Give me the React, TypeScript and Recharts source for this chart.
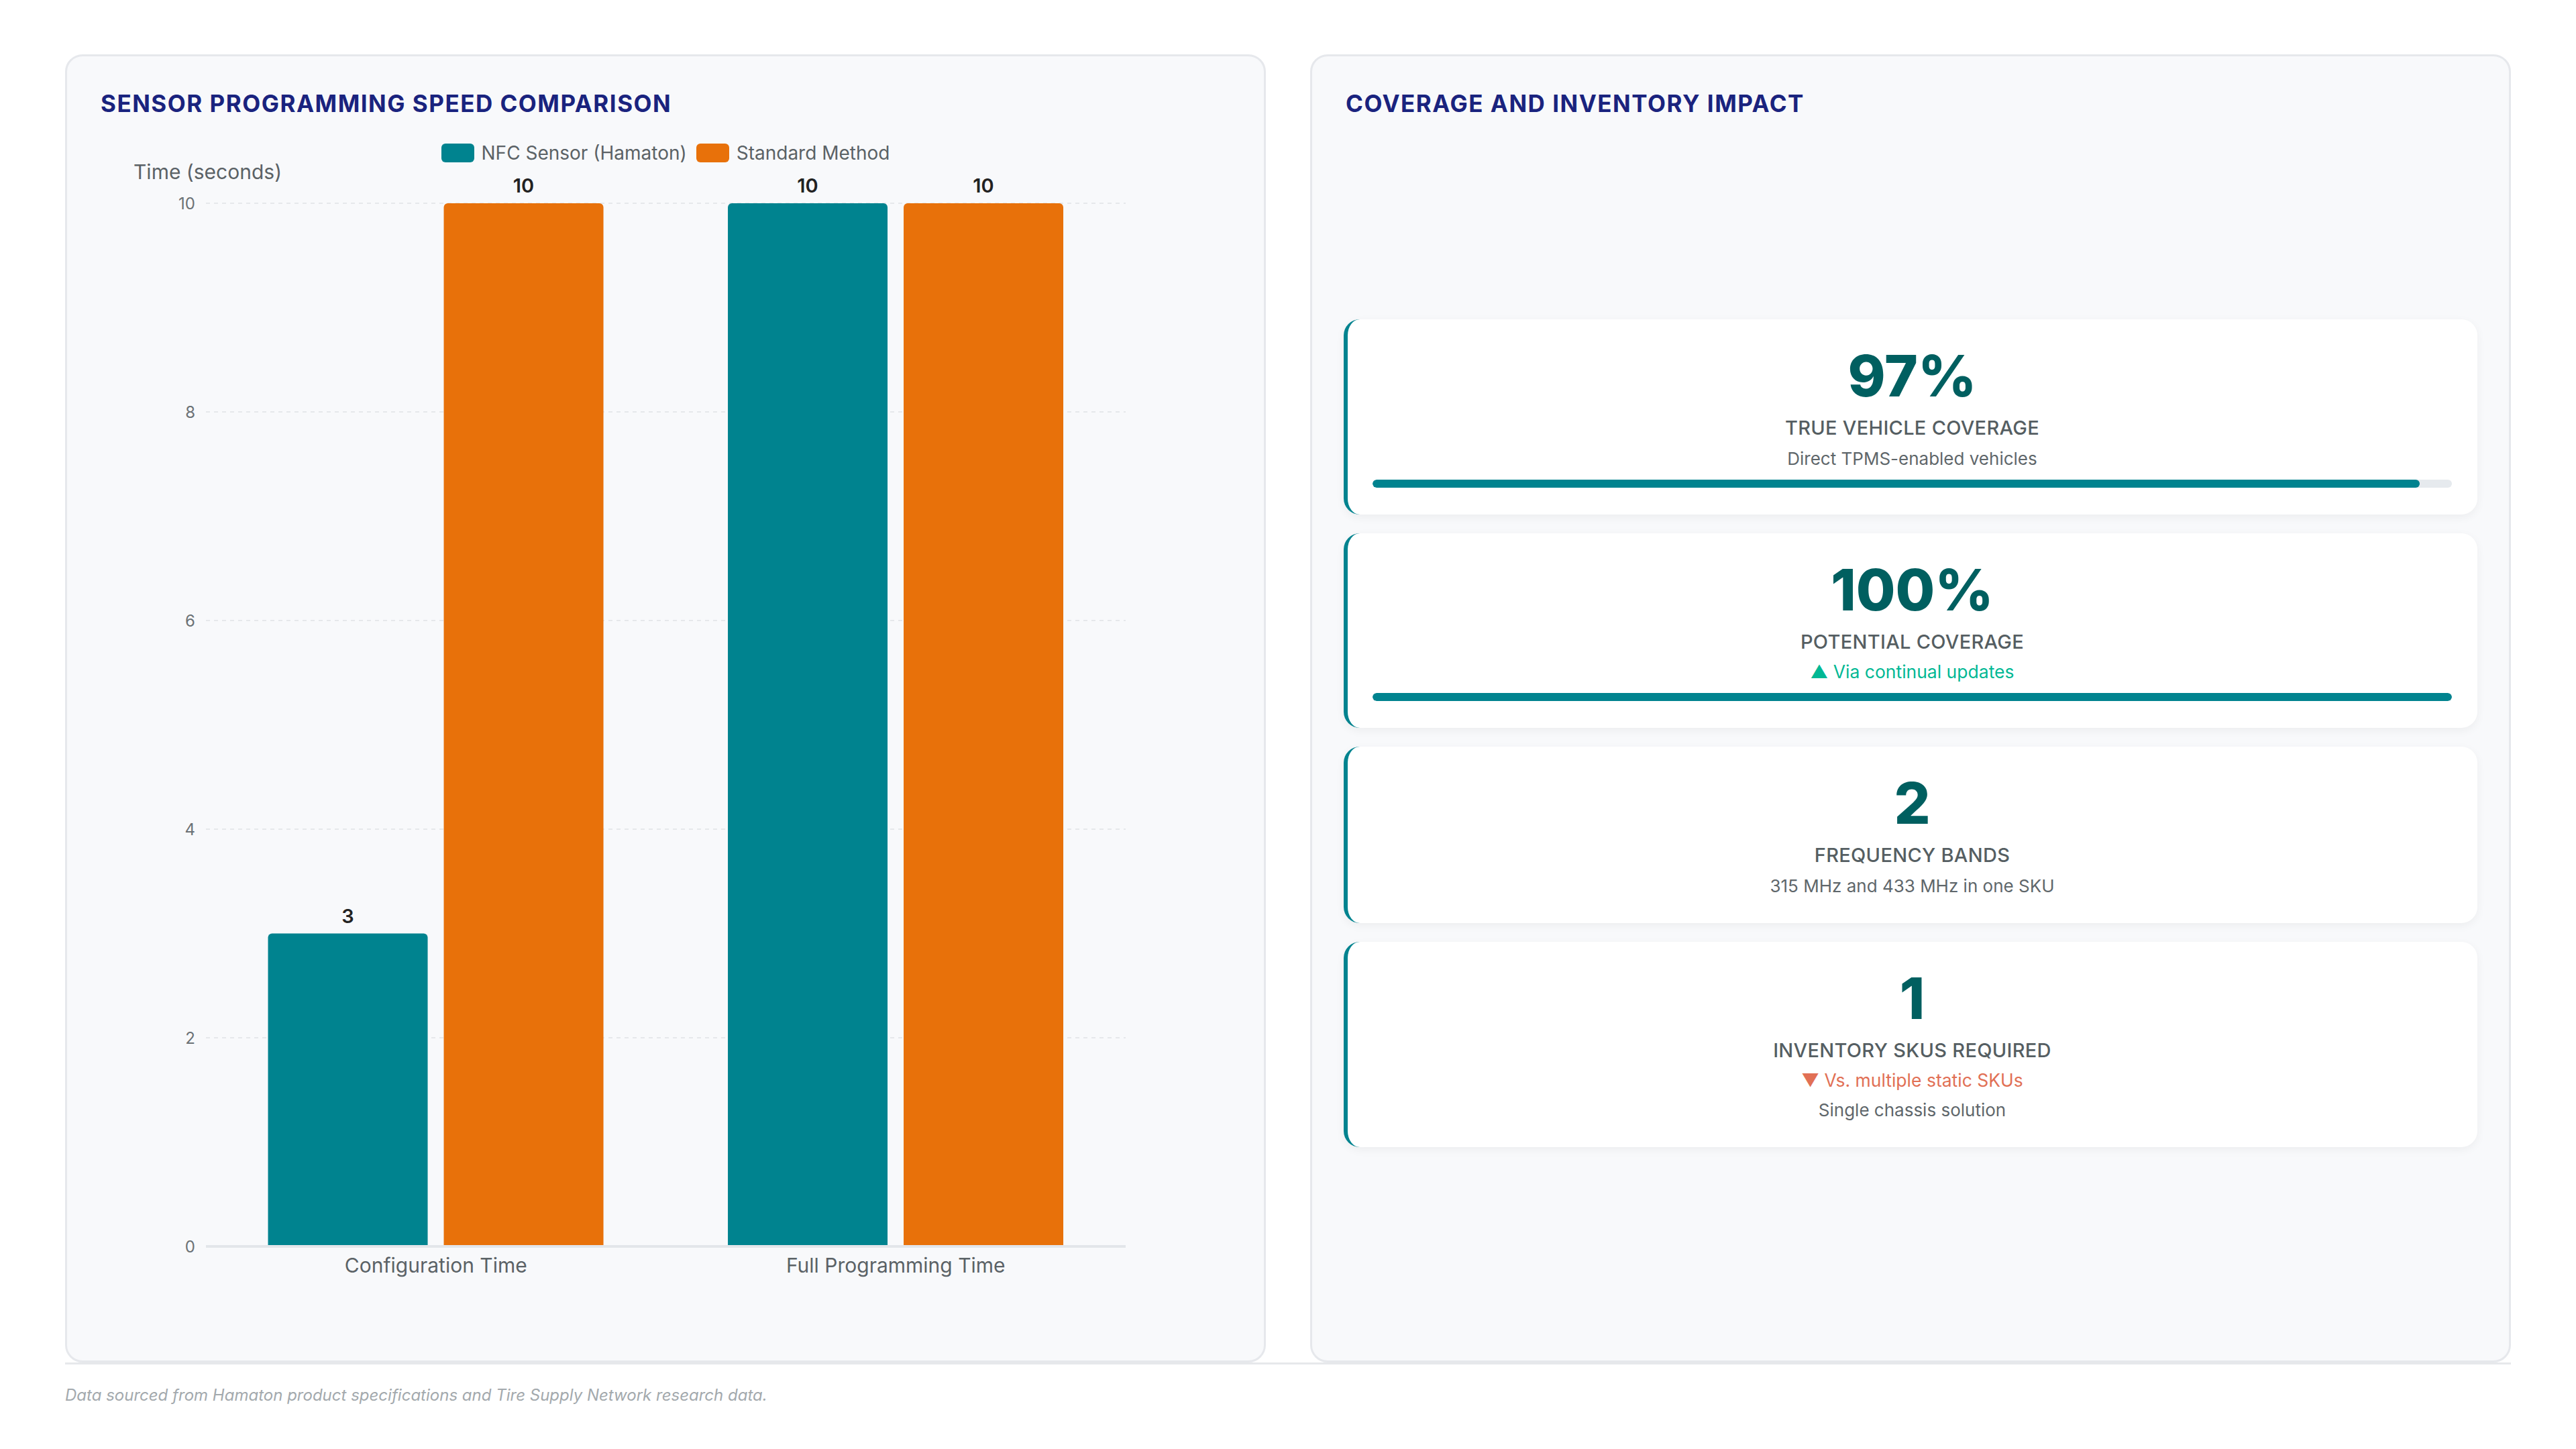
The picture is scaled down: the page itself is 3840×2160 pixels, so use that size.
import React from "react";
import { Bar, BarChart, CartesianGrid, LabelList, Legend, XAxis, YAxis } from "recharts";

// Left panel: programming time per task, in seconds
const categories = ["Configuration Time", "Full Programming Time"];
const nfcSeconds = [3, 10];
const standardSeconds = [10, 10];
const yTicks = [0, 2, 4, 6, 8, 10];
const seriesNames = ["NFC Sensor (Hamaton)", "Standard Method"];

// Right panel: metric cards
const metricValues = ["97%", "100%", "2", "1"];
const metricLabels = ["TRUE VEHICLE COVERAGE", "POTENTIAL COVERAGE", "FREQUENCY BANDS", "INVENTORY SKUS REQUIRED"];
const metricTrends = [null, "▲ Via continual updates", null, "▼ Vs. multiple static SKUs"];
const metricTrendUp = [false, true, false, false];
const metricNotes = ["Direct TPMS-enabled vehicles", null, "315 MHz and 433 MHz in one SKU", "Single chassis solution"];
const metricProgress = [97, 100, null, null];

const TEAL = "#00838f";
const ORANGE = "#e8710a";
const FONT = "Inter, 'Noto Sans', sans-serif";

const chartData = categories.map((name, i) => ({
  name,
  nfc: nfcSeconds[i],
  standard: standardSeconds[i],
}));

const cardStyle: React.CSSProperties = {
  position: "absolute",
  top: 81,
  width: 1790,
  height: 1950,
  boxSizing: "border-box",
  background: "#f8f9fb",
  border: "3px solid #e6e8ec",
  borderRadius: 26,
};

const titleStyle: React.CSSProperties = {
  position: "absolute",
  left: 50,
  top: 49,
  margin: 0,
  fontSize: 35,
  lineHeight: "42px",
  fontWeight: 700,
  letterSpacing: 1.5,
  color: "#1a237e",
};

function LegendContent() {
  const colors = [TEAL, ORANGE];
  return (
    <div style={{ display: "flex", justifyContent: "center", alignItems: "center", height: 40, fontFamily: FONT }}>
      {seriesNames.map((n, i) => (
        <div key={n} style={{ display: "flex", alignItems: "center", marginRight: i === 0 ? 14 : 0 }}>
          <span style={{ width: 49, height: 28, borderRadius: 6, background: colors[i], display: "inline-block", marginRight: 11 }} />
          <span style={{ fontSize: 28, color: "#5b6266" }}>{n}</span>
        </div>
      ))}
    </div>
  );
}

function SpeedChart() {
  return (
    <BarChart
      width={1790}
      height={1950}
      data={chartData}
      margin={{ top: 222, right: 209, left: 150, bottom: 113 }}
      barCategoryGap="13.5%"
      barGap={24}
      style={{ fontFamily: FONT }}
    >
      <CartesianGrid stroke="#e6e8eb" strokeWidth={2} strokeDasharray="6 6" vertical={false} />
      <XAxis
        dataKey="name"
        tickLine={false}
        tickSize={0}
        tickMargin={18}
        height={60}
        axisLine={{ stroke: "#e3e6ea", strokeWidth: 4 }}
        tick={{ fill: "#5b6266", fontSize: 30, fontFamily: FONT }}
      />
      <YAxis
        width={60}
        domain={[0, 10]}
        ticks={yTicks}
        axisLine={false}
        tickLine={false}
        tickSize={0}
        tickMargin={16}
        tick={{ fill: "#6b7175", fontSize: 24, fontFamily: FONT }}
        label={{
          content: (props: any) => {
            const vb = props.viewBox || { x: 150, y: 222 };
            return (
              <text x={vb.x - 48} y={vb.y - 36} fill="#5b6266" fontSize={30} fontFamily={FONT}>
                Time (seconds)
              </text>
            );
          },
        }}
      />
      <Legend
        layout="horizontal"
        verticalAlign="middle"
        align="center"
        wrapperStyle={{ top: 127, left: 0, width: 1790 }}
        content={() => <LegendContent />}
      />
      <Bar dataKey="nfc" name={seriesNames[0]} fill={TEAL} radius={[6, 6, 0, 0]} isAnimationActive={false}>
        <LabelList dataKey="nfc" position="top" offset={16} fill="#222" fontSize={29} fontWeight={600} fontFamily={FONT} />
      </Bar>
      <Bar dataKey="standard" name={seriesNames[1]} fill={ORANGE} radius={[6, 6, 0, 0]} isAnimationActive={false}>
        <LabelList dataKey="standard" position="top" offset={16} fill="#222" fontSize={29} fontWeight={600} fontFamily={FONT} />
      </Bar>
    </BarChart>
  );
}

function MetricCard({ i }: { i: number }) {
  const trend = metricTrends[i];
  const note = metricNotes[i];
  const progress = metricProgress[i];
  return (
    <div
      style={{
        background: "#fff",
        borderLeft: `6px solid ${TEAL}`,
        borderRadius: 24,
        boxShadow: "0 4px 14px rgba(0,0,0,0.05)",
        padding: "42px 38px 40px 37px",
        textAlign: "center",
        marginBottom: 28,
      }}
    >
      <div style={{ fontSize: 85, lineHeight: "85px", fontWeight: 800, color: "#005f60" }}>{metricValues[i]}</div>
      <div style={{ marginTop: 17, fontSize: 29, lineHeight: "35px", fontWeight: 500, color: "#555e62", letterSpacing: 0.3 }}>
        {metricLabels[i]}
      </div>
      {trend && (
        <div
          style={{
            marginTop: 12,
            fontSize: 26.5,
            lineHeight: "31px",
            color: metricTrendUp[i] ? "#00b894" : "#e17055",
          }}
        >
          {trend}
        </div>
      )}
      {note && <div style={{ marginTop: 13, fontSize: 26, lineHeight: "31px", color: "#5f676b" }}>{note}</div>}
      {progress !== null && (
        <div style={{ marginTop: 16, height: 12, borderRadius: 6, background: "#e6eaee", overflow: "hidden" }}>
          <div style={{ width: `${progress}%`, height: "100%", borderRadius: 6, background: TEAL }} />
        </div>
      )}
    </div>
  );
}

export default function App() {
  return (
    <div
      style={{
        position: "absolute",
        left: 0,
        top: 0,
        width: 3840,
        height: 2160,
        background: "#fff",
        fontFamily: FONT,
        overflow: "hidden",
      }}
    >
      <div style={{ ...cardStyle, left: 97 }}>
        <h2 style={titleStyle}>SENSOR PROGRAMMING SPEED COMPARISON</h2>
        <div style={{ position: "absolute", left: -3, top: -3 }}>
          <SpeedChart />
        </div>
      </div>

      <div style={{ ...cardStyle, left: 1953 }}>
        <h2 style={titleStyle}>COVERAGE AND INVENTORY IMPACT</h2>
        <div style={{ position: "absolute", left: 47, right: 47, top: 392 }}>
          {metricValues.map((_, i) => (
            <MetricCard key={i} i={i} />
          ))}
        </div>
      </div>

      <div style={{ position: "absolute", left: 97, top: 2031, width: 3646, height: 3, background: "#e6e8eb" }} />
      <div
        style={{
          position: "absolute",
          left: 97,
          top: 2066,
          fontSize: 24,
          lineHeight: "28px",
          fontStyle: "italic",
          color: "#a3a9ad",
        }}
      >
        Data sourced from Hamaton product specifications and Tire Supply Network research data.
      </div>
    </div>
  );
}
